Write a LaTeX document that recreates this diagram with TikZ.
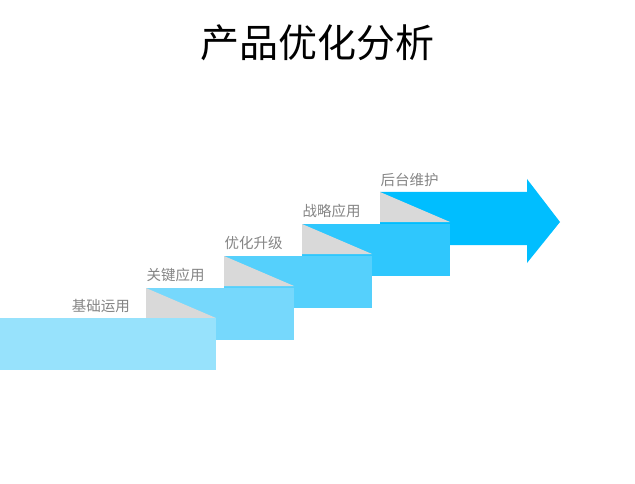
\documentclass[tikz,border=0pt]{standalone}
\usepackage{fontspec}
\newfontfamily\cjk{Noto Sans CJK SC}
\definecolor{cA}{HTML}{97E2FC}
\definecolor{cB}{HTML}{76D8FC}
\definecolor{cC}{HTML}{55D0FC}
\definecolor{cD}{HTML}{2FC7FD}
\definecolor{cE}{HTML}{00BEFF}
\definecolor{fold}{HTML}{D9D9D9}
\definecolor{lbltext}{HTML}{858585}
\begin{document}
\begin{tikzpicture}[x=1pt,y=-1pt,
  lbl/.style={font=\cjk\fontsize{14.5}{14.5}\selectfont, text=lbltext, inner sep=0pt},
  ttl/.style={font=\cjk\fontsize{39}{39}\selectfont, text=black, inner sep=0pt}]
\useasboundingbox (0,0) rectangle (635,484);
\fill[white] (0,0) rectangle (635,484);
% step 5 (arrow)
\fill[cE] (380,192) -- (527,192) -- (527,179) -- (560,222) -- (527,263) -- (527,245) -- (380,245) -- cycle;
\fill[fold] (380,192) -- (380,222) -- (450,222) -- cycle;
% step 4
\fill[cD] (302,224) rectangle (450,276);
\fill[fold] (302,224) -- (302,254) -- (372,254) -- cycle;
% step 3
\fill[cC] (224,256) rectangle (372,308);
\fill[fold] (224,256) -- (224,286) -- (294,286) -- cycle;
% step 2
\fill[cB] (146,288) rectangle (294,340);
\fill[fold] (146,288) -- (146,318) -- (216,318) -- cycle;
% step 1
\fill[cA] (0,318) rectangle (216,370);
% labels
\node[lbl, anchor=east] (l1) at (130,306) {基础运用};
\node[lbl, anchor=west] (l2) at (146.5,275) {关键应用};
\node[lbl, anchor=west] (l3) at (224.5,243) {优化升级};
\node[lbl, anchor=west] (l4) at (302.5,211) {战略应用};
\node[lbl, anchor=west] (l5) at (380.5,180) {后台维护};
% title
\node[ttl] (title) at (317,43) {产品优化分析};
\end{tikzpicture}
\end{document}
